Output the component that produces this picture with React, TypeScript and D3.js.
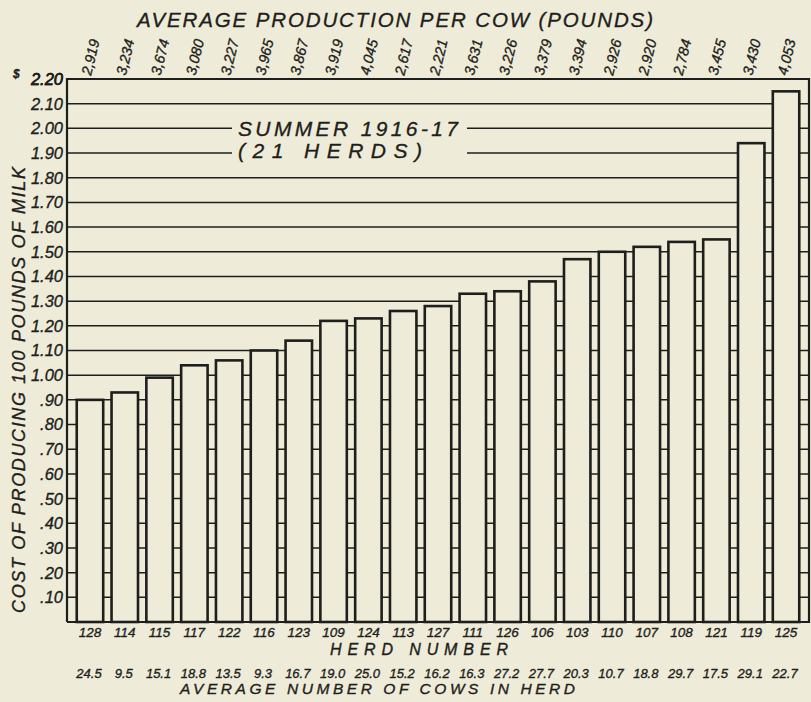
import React from 'react'
import * as d3 from 'd3'

const width = 811
const height = 702
const margin = { top: 79, right: 1, bottom: 80, left: 67 }

const herds = ['128', '114', '115', '117', '122', '116', '123', '109', '124', '113', '127',
  '111', '126', '106', '103', '110', '107', '108', '121', '119', '125']
const cost = [0.90, 0.93, 0.99, 1.04, 1.06, 1.10, 1.14, 1.22, 1.23, 1.26, 1.28,
  1.33, 1.34, 1.38, 1.47, 1.50, 1.52, 1.54, 1.55, 1.94, 2.15]
const production = [2919, 3234, 3674, 3080, 3227, 3965, 3867, 3919, 4045, 2617, 2221,
  3631, 3226, 3379, 3394, 2926, 2920, 2784, 3455, 3430, 4053]
const cows = ['24.5', '9.5', '15.1', '18.8', '13.5', '9.3', '16.7', '19.0', '25.0', '15.2', '16.2',
  '16.3', '27.2', '27.7', '20.3', '10.7', '18.8', '29.7', '17.5', '29.1', '22.7']

const bg = '#eeecd8'
const ink = '#1e1e1c'
const font = "'Liberation Sans', Arial, sans-serif"

const App = () => {
  const x = d3.scaleBand()
    .domain(herds)
    .range([margin.left, width - margin.right - 1])
    .paddingInner(0.24)
    .paddingOuter(0.28)

  const y = d3.scaleLinear()
    .domain([0, 2.2])
    .range([height - margin.bottom, margin.top])

  const ticks = y.ticks(22).filter(d => d > 0)
  const fmt = (d: number) => (d >= 1 ? d.toFixed(2) : d.toFixed(2).slice(1))
  const comma = d3.format(',')

  const x0 = margin.left
  const x1 = width - margin.right - 1
  const yBase = y(0)
  const cx = (h: string) => (x(h) ?? 0) + x.bandwidth() / 2

  // ink-ish lettering: a hairline stroke thickens the glyphs a little
  const textProps = {
    fill: ink, fontFamily: font, fontStyle: 'italic' as const,
    stroke: ink, strokeWidth: 0.35,
  }

  return (
    <div style={{ position: 'absolute', left: 0, top: 0 }}>
      <svg width={width} height={height} style={{ display: 'block', background: bg }}>
        {/* grid */}
        {ticks.map(t => (
          <line key={t} x1={x0} x2={x1} y1={y(t)} y2={y(t)} stroke={ink} strokeWidth={1.5} />
        ))}

        {/* mask behind the season label */}
        <rect x={232} y={114} width={235} height={50} fill={bg} />
        <text {...textProps} x={238} y={136} fontSize={21} textLength={220} lengthAdjust="spacing">
          SUMMER 1916-17
        </text>
        <text {...textProps} x={238} y={158} fontSize={21} textLength={184} lengthAdjust="spacing">
          (21 HERDS)
        </text>

        {/* bars */}
        {herds.map((h, i) => (
          <rect key={h} x={x(h)} y={y(cost[i])} width={x.bandwidth()}
            height={yBase - y(cost[i])} fill={bg} stroke={ink} strokeWidth={2.6} />
        ))}

        {/* frame */}
        <path d={`M${x0},${yBase}V${y(2.2)}H${x1}V${yBase}H${x0}`} fill="none" stroke={ink} strokeWidth={2.2} />

        {/* y tick labels */}
        {[...ticks, 2.2].map(t => (
          <text key={t} {...textProps} x={63} y={y(t)} dy="0.36em" fontSize={16.5} textAnchor="end">
            {fmt(t)}
          </text>
        ))}
        <text {...textProps} x={13} y={y(2.2) - 1} fontSize={12} fontWeight="bold">$</text>

        {/* y axis title */}
        <text {...textProps} transform="translate(25,390) rotate(-90)" fontSize={18}
          textAnchor="middle" textLength={446} lengthAdjust="spacing">
          COST OF PRODUCING 100 POUNDS OF MILK
        </text>

        {/* top title and production labels */}
        <text {...textProps} x={137} y={27} fontSize={20.5} textLength={516} lengthAdjust="spacing">
          AVERAGE PRODUCTION PER COW (POUNDS)
        </text>
        {herds.map((h, i) => (
          <text key={h} {...textProps} fontSize={14.5}
            transform={`translate(${cx(h) + 1},76) rotate(-76)`}>
            {comma(production[i])}
          </text>
        ))}

        {/* herd numbers */}
        {herds.map(h => (
          <text key={h} {...textProps} x={cx(h)} y={637} fontSize={13.5} textAnchor="middle">
            {h}
          </text>
        ))}
        <text {...textProps} x={330} y={655} fontSize={16} textLength={178} lengthAdjust="spacing">
          HERD NUMBER
        </text>

        {/* cows per herd */}
        {herds.map((h, i) => (
          <text key={h} {...textProps} x={cx(h) - 1} y={678} fontSize={13} textAnchor="middle">
            {cows[i]}
          </text>
        ))}
        <text {...textProps} x={180} y={694} fontSize={15.5} textLength={395} lengthAdjust="spacing">
          AVERAGE NUMBER OF COWS IN HERD
        </text>
      </svg>
    </div>
  )
}

export default App
